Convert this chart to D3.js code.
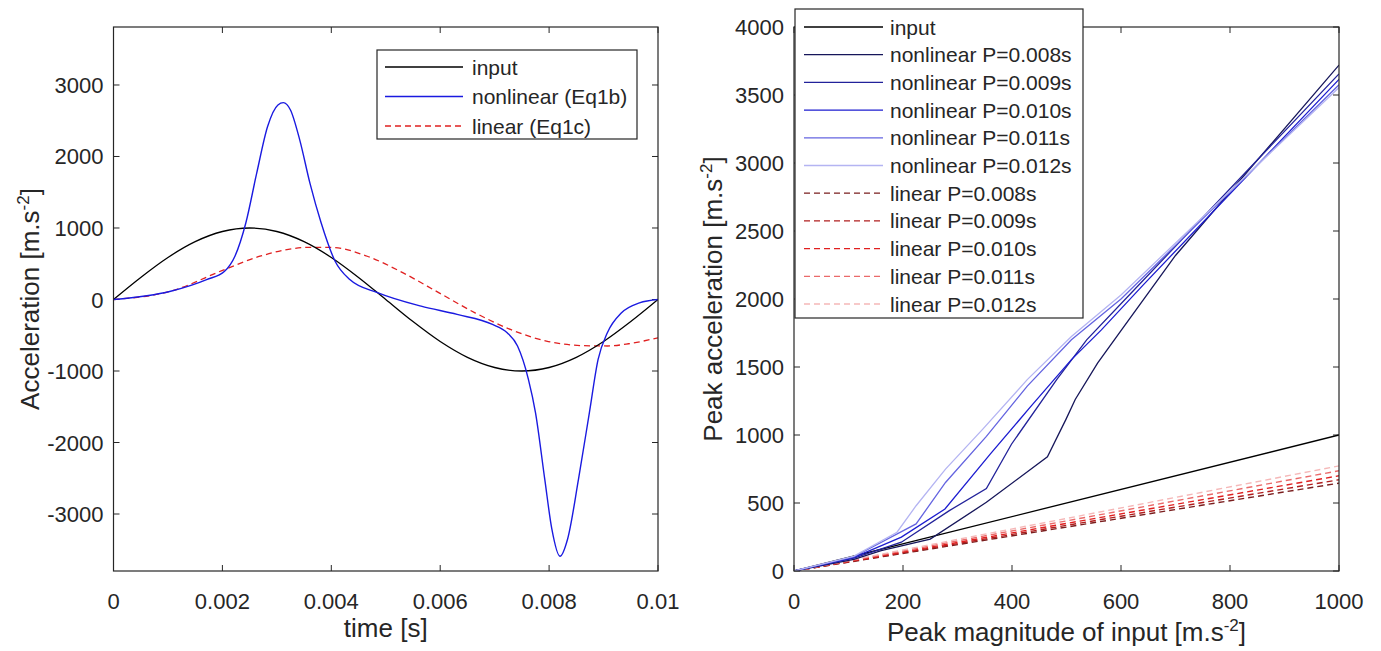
<!DOCTYPE html>
<html>
<head>
<meta charset="utf-8">
<script src="https://cdn.jsdelivr.net/npm/d3@7"></script>
<style>
  body { margin: 0; background: #fff; }
  svg text { font-family: "Liberation Sans", Arial, Helvetica, sans-serif; fill: #262626; }
</style>
</head>
<body>
<div id="chart"></div>
<script>
// ---- data ----
// left panel: time history
let inputT = [0, 0.0005, 0.001, 0.0015, 0.002, 0.0025, 0.003, 0.0035, 0.004, 0.0045, 0.005,
              0.0055, 0.006, 0.0065, 0.007, 0.0075, 0.008, 0.0085, 0.009, 0.0095, 0.01];
let inputA = [0, 309, 588, 809, 951, 1000, 951, 809, 588, 309, 0,
              -309, -588, -809, -951, -1000, -951, -809, -588, -309, 0];

let nonlinT = [0, 0.00105, 0.00171, 0.00204, 0.00223, 0.00243, 0.00263, 0.00283, 0.00302, 0.00312,
               0.00325, 0.00342, 0.00361, 0.00381, 0.00407, 0.00434, 0.00486, 0.00565, 0.00631, 0.00696,
               0.00723, 0.00742, 0.00762, 0.00775, 0.00792, 0.00805, 0.0082, 0.00834, 0.00854, 0.00874,
               0.0089, 0.00907, 0.00933, 0.00966, 0.01];
let nonlinA = [0, 116, 279, 395, 605, 1070, 1767, 2419, 2721, 2753,
               2651, 2233, 1620, 1080, 535, 279, 93, -93, -209, -349,
               -465, -651, -1116, -1581, -2512, -3209, -3591, -3349, -2512, -1581,
               -837, -465, -186, -47, 0];

let linT = [0, 0.00105, 0.00204, 0.00269, 0.00361, 0.00401, 0.00466, 0.00532, 0.00598, 0.00664,
            0.00729, 0.00795, 0.00861, 0.00907, 0.00946, 0.01];
let linA = [0, 116, 419, 605, 730, 728, 605, 372, 93, -186,
            -419, -581, -645, -650, -619, -535];

// right panel: peak response vs input magnitude
let periods = ["0.008", "0.009", "0.010", "0.011", "0.012"];
let peakInX = [0, 1000];
let peakInY = [0, 1000];
let nlX = [
  [0, 110, 160, 250, 353, 465, 499, 516, 557, 601, 700, 1000],
  [0, 110, 197, 285, 353, 399, 482, 537, 620, 1000],
  [0, 110, 197, 277, 360, 435, 509, 564, 640, 1000],
  [0, 110, 224, 278, 353, 428, 509, 600, 1000],
  [0, 110, 189, 224, 278, 346, 428, 509, 600, 1000]
];
let nlY = [
  [0, 85, 150, 235, 505, 839, 1115, 1261, 1529, 1773, 2320, 3720],
  [0, 95, 212, 444, 607, 932, 1407, 1700, 2050, 3655],
  [0, 100, 249, 456, 859, 1212, 1554, 1773, 2100, 3615],
  [0, 105, 346, 651, 990, 1359, 1700, 2000, 3575],
  [0, 110, 285, 480, 749, 1041, 1407, 1724, 2030, 3555]
];
let linEndY = [646, 671, 700, 737, 773];

// ---- layout / styles ----
let W = 1381, H = 651;
let axCol = "#262626";
let tickFont = "22px", legFont = "21px", labelFont = "26px";
let nlColors = ["#16165a", "#22229a", "#1c1cd0", "#6464e0", "#b4b4f2"];
let linColors = ["#7a1e1e", "#b01e1e", "#e02020", "#ea6a6a", "#f5b8b8"];

let svg = d3.select("#chart").append("svg")
    .attr("width", W).attr("height", H);

function panel(box, xDom, yDom, xTicks, yTicks, xFmt, yFmt) {
    let x = d3.scaleLinear().domain(xDom).range([box.l, box.r]);
    let y = d3.scaleLinear().domain(yDom).range([box.b, box.t]);
    let g = svg.append("g");
    let clipId = "clip" + Math.round(box.l);
    svg.append("clipPath").attr("id", clipId).append("rect")
        .attr("x", box.l).attr("y", box.t).attr("width", box.r - box.l).attr("height", box.b - box.t);

    // ticks on all four sides, pointing inward
    let tl = 6;
    let xs = g.append("g").attr("stroke", axCol).attr("stroke-width", 1);
    xTicks.forEach(v => {
        xs.append("line").attr("x1", x(v)).attr("x2", x(v)).attr("y1", box.b).attr("y2", box.b - tl);
        xs.append("line").attr("x1", x(v)).attr("x2", x(v)).attr("y1", box.t).attr("y2", box.t + tl);
    });
    yTicks.forEach(v => {
        xs.append("line").attr("x1", box.l).attr("x2", box.l + tl).attr("y1", y(v)).attr("y2", y(v));
        xs.append("line").attr("x1", box.r).attr("x2", box.r - tl).attr("y1", y(v)).attr("y2", y(v));
    });
    g.selectAll(".xt").data(xTicks).enter().append("text")
        .attr("x", d => x(d)).attr("y", box.b + 38)
        .attr("text-anchor", "middle").style("font-size", tickFont)
        .text(xFmt);
    g.selectAll(".yt").data(yTicks).enter().append("text")
        .attr("x", box.l - 10).attr("y", d => y(d) + 8)
        .attr("text-anchor", "end").style("font-size", tickFont)
        .text(yFmt);

    let plot = svg.append("g").attr("clip-path", `url(#${clipId})`);
    return {x, y, g, plot, box};
}

function frame(p) {
    let b = p.box;
    svg.append("rect").attr("x", b.l).attr("y", b.t).attr("width", b.r - b.l).attr("height", b.b - b.t)
        .attr("fill", "none").attr("stroke", axCol).attr("stroke-width", 1.2);
}

function unitLabel(sel, pre) {
    sel.append("tspan").text(pre);
    sel.append("tspan").attr("dy", -10).style("font-size", "17px").text("-2");
    sel.append("tspan").attr("dy", 10).text("]");
}

// ---- left panel ----
let left = panel({l: 113.5, r: 658, t: 27, b: 571}, [0, 0.01], [-3797, 3811],
    [0, 0.002, 0.004, 0.006, 0.008, 0.01], [-3000, -2000, -1000, 0, 1000, 2000, 3000],
    d => d === 0 ? "0" : d3.format("")(+d.toFixed(3)), d => d);

let lineL = (T, A) => d3.line().curve(d3.curveMonotoneX)
    .x((d, i) => left.x(T[i])).y(d => left.y(d))(A);

left.plot.append("path").attr("d", lineL(linT, linA))
    .attr("fill", "none").attr("stroke", "#e02020").attr("stroke-width", 1.3).attr("stroke-dasharray", "6,4");
left.plot.append("path").attr("d", lineL(inputT, inputA))
    .attr("fill", "none").attr("stroke", "#000").attr("stroke-width", 1.3);
left.plot.append("path").attr("d", lineL(nonlinT, nonlinA))
    .attr("fill", "none").attr("stroke", "#1a1ae0").attr("stroke-width", 1.4);
frame(left);

svg.append("text").attr("x", (113.5 + 658) / 2).attr("y", 637)
    .attr("text-anchor", "middle").style("font-size", labelFont).text("time [s]");
unitLabel(svg.append("text").attr("transform", "translate(39,299) rotate(-90)")
    .attr("text-anchor", "middle").style("font-size", labelFont), "Acceleration [m.s");

// left legend
let legL = svg.append("g").attr("transform", "translate(377,50)");
legL.append("rect").attr("width", 260).attr("height", 89)
    .attr("fill", "#fff").attr("stroke", axCol).attr("stroke-width", 1.2);
let legLItems = [
    {name: "input", color: "#000", dash: null},
    {name: "nonlinear (Eq1b)", color: "#1a1ae0", dash: null},
    {name: "linear (Eq1c)", color: "#e02020", dash: "6,4"}
];
legLItems.forEach((it, i) => {
    let yy = 17 + i * 29.5;
    legL.append("line").attr("x1", 8).attr("x2", 86).attr("y1", yy).attr("y2", yy)
        .attr("stroke", it.color).attr("stroke-width", 1.3).attr("stroke-dasharray", it.dash);
    legL.append("text").attr("x", 95).attr("y", yy + 7.5).style("font-size", legFont).text(it.name);
});

// ---- right panel ----
let right = panel({l: 794, r: 1339, t: 27, b: 571}, [0, 1000], [0, 4000],
    [0, 200, 400, 600, 800, 1000], d3.range(0, 4001, 500), d => d, d => d);

linEndY.forEach((v, i) => {
    right.plot.append("path")
        .attr("d", d3.line()([[right.x(peakInX[0]), right.y(0)], [right.x(peakInX[1]), right.y(v)]]))
        .attr("fill", "none").attr("stroke", linColors[i]).attr("stroke-width", 1.4).attr("stroke-dasharray", "6,4");
});
right.plot.append("path")
    .attr("d", d3.line().x((d, i) => right.x(peakInX[i])).y(d => right.y(d))(peakInY))
    .attr("fill", "none").attr("stroke", "#000").attr("stroke-width", 1.3);
nlY.forEach((ys, k) => {
    right.plot.append("path")
        .attr("d", d3.line().x((d, i) => right.x(nlX[k][i])).y(d => right.y(d))(ys))
        .attr("fill", "none").attr("stroke", nlColors[k]).attr("stroke-width", 1.3);
});
frame(right);

unitLabel(svg.append("text").attr("x", (794 + 1339) / 2).attr("y", 641)
    .attr("text-anchor", "middle").style("font-size", labelFont), "Peak magnitude of input [m.s");
unitLabel(svg.append("text").attr("transform", "translate(722,299) rotate(-90)")
    .attr("text-anchor", "middle").style("font-size", labelFont), "Peak acceleration [m.s");

// right legend
let legR = svg.append("g").attr("transform", "translate(795,9)");
legR.append("rect").attr("width", 288).attr("height", 309)
    .attr("fill", "#fff").attr("stroke", axCol).attr("stroke-width", 1.2);
let legRItems = [{name: "input", color: "#000", dash: null}]
    .concat(periods.map((p, i) => ({name: `nonlinear P=${p}s`, color: nlColors[i], dash: null})))
    .concat(periods.map((p, i) => ({name: `linear P=${p}s`, color: linColors[i], dash: "6,4"})));
legRItems.forEach((it, i) => {
    let yy = 18 + i * 27.7;
    legR.append("line").attr("x1", 9).attr("x2", 88).attr("y1", yy).attr("y2", yy)
        .attr("stroke", it.color).attr("stroke-width", 1.3).attr("stroke-dasharray", it.dash);
    legR.append("text").attr("x", 95).attr("y", yy + 7.5).style("font-size", legFont).text(it.name);
});
</script>
</body>
</html>
